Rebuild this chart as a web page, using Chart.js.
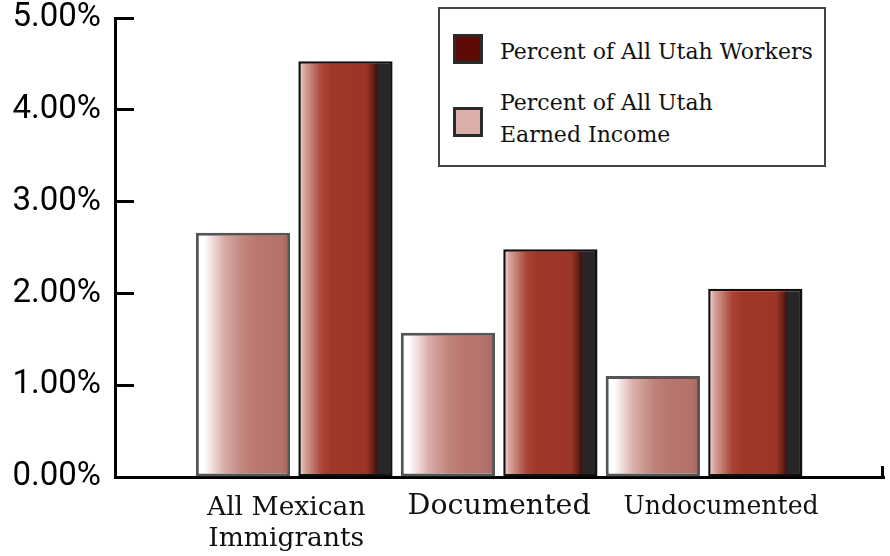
<!DOCTYPE html>
<html>
<head>
<meta charset="utf-8">
<script src="https://cdn.jsdelivr.net/npm/chart.js@4"></script>
<style>
html,body{margin:0;padding:0;background:#fff;}
#wrap{position:relative;width:890px;height:556px;}
canvas{display:block;}
#legend{position:absolute;left:438px;top:7px;width:384px;height:156px;border:2px solid #444;background:#fff;font-family:'DejaVu Serif';font-size:22px;color:#111;}
.sw{position:absolute;width:24px;height:24px;border:3px solid #2a2a2a;}
.lt{position:absolute;white-space:nowrap;line-height:32px;}
</style>
</head>
<body>
<div id="wrap">
<canvas id="c" width="890" height="556"></canvas>
<div id="legend"></div>
</div>
<script>
// ---- data ----
const categories = [['All Mexican', 'Immigrants'], 'Documented', 'Undocumented'];
const categoryPositions = [0, 1, 2];
const incomeShare = [2.66, 1.57, 1.10];   // Percent of All Utah Earned Income
const workerShare = [4.53, 2.48, 2.05];   // Percent of All Utah Workers
const seriesNames = ['Percent of All Utah Earned Income', 'Percent of All Utah Workers'];
const legendLabels = [['Percent of All Utah Workers'], ['Percent of All Utah', 'Earned Income']];
const yMin = 0, yMax = 5, yStep = 1;

// ---- styles ----
const labelFontSizes = [26.5, 28.5, 25.2];
const labelShiftX = [-8, 0, 17];
const labelShiftY = [3, 0, 3];
const incomeStops = [[0,'#ffffff'],[0.09,'#ffffff'],[0.3,'#d9aca8'],[0.5,'#c0857d'],[0.65,'#b9776f'],[0.9,'#b5726a'],[1,'#a0645d']];
const workerStops = [[0,'#f3e2de'],[0.07,'#d6a198'],[0.25,'#aa4535'],[0.35,'#9f3828'],[0.72,'#9b3526'],[0.79,'#6c2117'],[0.83,'#3a1512'],[0.845,'#2a2526'],[1,'#2a2526']];

const gradPlugin = {
  id: 'grad',
  beforeDatasetsDraw(chart) {
    const ctx = chart.ctx;
    chart.data.datasets.forEach((ds, di) => {
      const meta = chart.getDatasetMeta(di);
      meta.data.forEach(el => {
        const l = el.x - el.width / 2, r = el.x + el.width / 2;
        const g = ctx.createLinearGradient(l, 0, r, 0);
        ds.gradStops.forEach(([o, c]) => g.addColorStop(o, c));
        el.options = Object.assign({}, el.options, {backgroundColor: g});
      });
    });
  }
};

const labelNudge = {
  id: 'labelNudge',
  beforeDraw(chart) {
    const s = chart.scales.x;
    const items = s.getLabelItems(chart.chartArea);
    if (items.__nudged) return;
    items.forEach((it, i) => {
      const t = it.options.translation;
      t[0] += labelShiftX[i] || 0;
      t[1] += labelShiftY[i] || 0;
    });
    items.__nudged = true;
  }
};

const endTick = {
  id: 'endTick',
  afterDraw(chart) {
    const s = chart.scales.x, ctx = chart.ctx;
    ctx.save();
    ctx.strokeStyle = '#000';
    ctx.lineWidth = 3;
    ctx.beginPath();
    ctx.moveTo(s.right - 1.5, s.top + 1);
    ctx.lineTo(s.right - 1.5, s.top - 11);
    ctx.stroke();
    ctx.restore();
  }
};

new Chart(document.getElementById('c'), {
  type: 'bar',
  data: {
    datasets: [
      {
        label: seriesNames[0],
        data: categoryPositions.map((x, i) => ({x, y: incomeShare[i]})),
        backgroundColor: '#b9776f',
        borderColor: '#555555',
        borderWidth: 3,
        borderSkipped: false,
        barPercentage: 0.92,
        categoryPercentage: 1.0,
        gradStops: incomeStops
      },
      {
        label: seriesNames[1],
        data: categoryPositions.map((x, i) => ({x, y: workerShare[i]})),
        backgroundColor: '#9b3526',
        borderColor: '#111111',
        borderWidth: 2.5,
        borderSkipped: false,
        barPercentage: 0.92,
        categoryPercentage: 1.0,
        gradStops: workerStops
      }
    ]
  },
  options: {
    responsive: false,
    animation: false,
    events: [],
    layout: {padding: {top: 18, right: 6, bottom: 0, left: 0}},
    plugins: {legend: {display: false}, tooltip: {enabled: false}},
    scales: {
      x: {
        type: 'linear',
        offset: false,
        min: -0.8746,
        max: 2.878,
        afterFit(s) { s.height = 79; },
        grid: {display: false, drawTicks: false},
        border: {display: true, color: '#000', width: 3},
        ticks: {
          stepSize: 1,
          includeBounds: false,
          autoSkip: false,
          maxRotation: 0,
          padding: 13,
          color: '#111',
          font: c => ({family: 'DejaVu Serif', size: labelFontSizes[c.index] || 27, lineHeight: 1.15}),
          callback: v => Number.isInteger(v) && categories[v] !== undefined ? categories[v] : ''
        }
      },
      y: {
        min: yMin,
        max: yMax,
        afterFit(s) { s.width = 115; s.paddingTop = 0; s.paddingBottom = 0; },
        grid: {display: true, drawOnChartArea: false, drawTicks: true, tickLength: -19, tickWidth: 3, tickColor: '#000'},
        border: {display: true, color: '#000', width: 3},
        ticks: {
          stepSize: yStep,
          padding: 33,
          color: '#000',
          font: {family: 'Roboto', size: 33, lineHeight: 1.0},
          callback: v => v.toFixed(2) + '%'
        }
      }
    }
  },
  plugins: [gradPlugin, labelNudge, endTick]
});

// ---- legend (HTML) ----
const legend = document.getElementById('legend');
const swatchFills = ['#5e0a06', '#dcaeaa'];
const swatchTops = [25, 98];
const textTops = [27, 78];
legendLabels.forEach((lines, i) => {
  const sw = document.createElement('div');
  sw.className = 'sw';
  sw.style.left = '13px';
  sw.style.top = swatchTops[i] + 'px';
  sw.style.background = swatchFills[i];
  legend.appendChild(sw);
  const t = document.createElement('div');
  t.className = 'lt';
  t.style.left = '60px';
  t.style.top = textTops[i] + 'px';
  t.innerHTML = lines.join('<br>');
  legend.appendChild(t);
});
</script>
</body>
</html>
